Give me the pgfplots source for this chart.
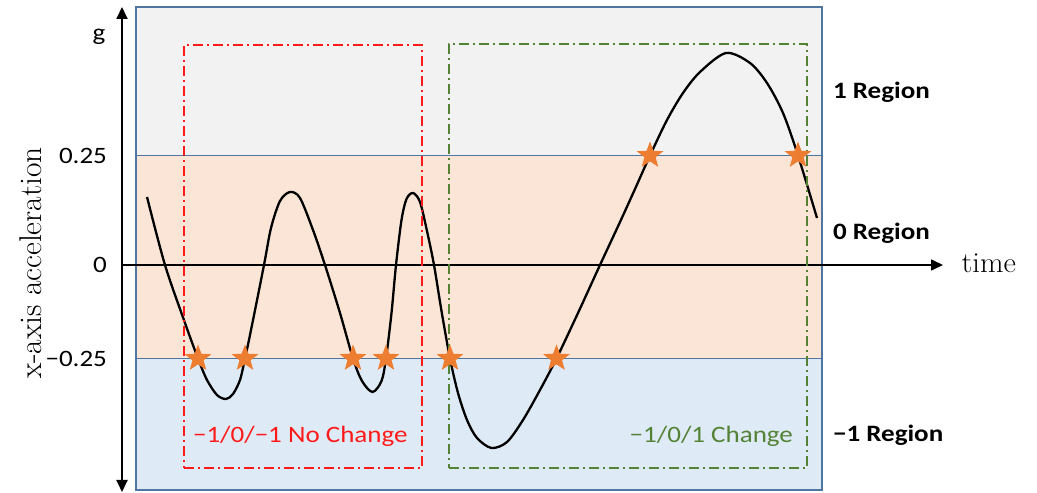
\documentclass[border=0pt]{standalone}
\usepackage{pgfplots}
\pgfplotsset{compat=1.18}
\usepackage{fontspec}
\newfontfamily\carlito{Carlito}
\usetikzlibrary{arrows.meta}
\definecolor{bandgray}{HTML}{F2F2F2}
\definecolor{bandpeach}{HTML}{FBE5D6}
\definecolor{bandblue}{HTML}{DEEBF7}
\definecolor{edgeblue}{HTML}{4F75A3}
\definecolor{starorange}{HTML}{ED7D31}
\definecolor{boxred}{HTML}{FF1A1A}
\definecolor{boxgreen}{HTML}{548235}
\pgfdeclareplotmark{fstar}{%
  \pgfpathmoveto{\pgfpointpolar{90}{\pgfplotmarksize}}%
  \pgfpathlineto{\pgfpointpolar{126}{0.42\pgfplotmarksize}}%
  \pgfpathlineto{\pgfpointpolar{162}{\pgfplotmarksize}}%
  \pgfpathlineto{\pgfpointpolar{198}{0.42\pgfplotmarksize}}%
  \pgfpathlineto{\pgfpointpolar{234}{\pgfplotmarksize}}%
  \pgfpathlineto{\pgfpointpolar{270}{0.42\pgfplotmarksize}}%
  \pgfpathlineto{\pgfpointpolar{306}{\pgfplotmarksize}}%
  \pgfpathlineto{\pgfpointpolar{342}{0.42\pgfplotmarksize}}%
  \pgfpathlineto{\pgfpointpolar{18}{\pgfplotmarksize}}%
  \pgfpathlineto{\pgfpointpolar{54}{0.42\pgfplotmarksize}}%
  \pgfpathclose\pgfusepathqfill}
\begin{document}
\begin{tikzpicture}
\begin{axis}[width=1037pt,height=493pt,scale only axis,
  xmin=0,xmax=1037,ymin=0,ymax=493,hide axis,clip=false]
% bands (y = 493 - pixel row)
\addplot[fill=bandgray,draw=none] coordinates {(136,337.5) (822,337.5) (822,486) (136,486)} --cycle;
\addplot[fill=bandpeach,draw=none] coordinates {(136,134.5) (822,134.5) (822,337.5) (136,337.5)} --cycle;
\addplot[fill=bandblue,draw=none] coordinates {(136,3) (822,3) (822,134.5) (136,134.5)} --cycle;
\addplot[edgeblue,line width=1.4pt] coordinates {(136,337.5) (822,337.5)};
\addplot[edgeblue,line width=1.4pt] coordinates {(136,134.5) (822,134.5)};
\addplot[edgeblue,line width=1.4pt] coordinates {(136,3) (822,3) (822,486) (136,486)} --cycle;
% axes
\draw[line width=1.8pt,{Triangle[length=12pt,width=11pt]}-{Triangle[length=12pt,width=11pt]}] (axis cs:122,1) -- (axis cs:122,486);
\draw[line width=1.6pt,-{Triangle[length=12pt,width=11pt]}] (axis cs:122,228) -- (axis cs:943,228);
% signal
\addplot[black,line width=2.3pt,smooth,tension=0.5] coordinates {
(147,296) (165,228) (185,170) (198,134.5) (207,113) (217,98) (226,94)
(233,99) (240,113) (245,134.5) (250,158) (264,228) (271,265)
(280,292) (290,301) (300,295) (313,263) (325,228) (340,180) (353,134.5)
(362,112) (372.5,101) (381.5,112) (386,134.5) (391.5,180) (396,228)
(401.5,273) (406.5,294) (413,300) (420,291) (427,262) (434,228)
(441.5,182) (450,134.5) (458,100) (467,73) (477,55) (491.5,45) (507,51)
(523,73) (540,103) (556.5,134.5) (578,180) (600,228) (620,271) (635,304)
(650,337.5) (667,373) (683,400) (700,421) (726,440) (750,430) (767,410)
(783,380) (798,337.5) (817,275)};
% boxes
\addplot[boxred,line width=1.6pt,dash pattern=on 10pt off 4pt on 2pt off 4pt]
  coordinates {(184,25) (422,25) (422,448) (184,448)} --cycle;
\addplot[boxgreen,line width=1.6pt,dash pattern=on 10pt off 4pt on 2pt off 4pt]
  coordinates {(449,25) (807,25) (807,449) (449,449)} --cycle;
% crossing stars
\addplot[only marks,mark=fstar,mark size=14pt,starorange] coordinates {
(198,134.5) (245,134.5) (353,134.5) (386,134.5) (450,134.5) (556.5,134.5)
(650,337.5) (798,337.5)};
% labels
\node[anchor=east,font=\carlito\fontsize{23.5}{26}\selectfont,xscale=1.15] at (axis cs:111,337.5) {0.25};
\node[anchor=east,font=\carlito\fontsize{23.5}{26}\selectfont,xscale=1.15] at (axis cs:111,228) {0};
\node[anchor=east,font=\carlito\fontsize{23.5}{26}\selectfont,xscale=1.15] at (axis cs:111,134.5) {−0.25};
\node[font=\carlito\fontsize{23.5}{26}\selectfont,xscale=1.15] at (axis cs:99,456) {g};
\node[rotate=90,font=\fontsize{31.5}{36}\selectfont] at (axis cs:31,230) {x-axis acceleration};
\node[anchor=west,font=\fontsize{29}{34}\selectfont,xscale=1.05] at (axis cs:958,230) {time};
\node[anchor=west,font=\carlito\bfseries\fontsize{23.5}{26}\selectfont,xscale=1.15] at (axis cs:829,400.5) {1 Region};
\node[anchor=west,font=\carlito\bfseries\fontsize{23.5}{26}\selectfont,xscale=1.15] at (axis cs:829,259.5) {0 Region};
\node[anchor=west,font=\carlito\bfseries\fontsize{23.5}{26}\selectfont,xscale=1.15] at (axis cs:829,58) {−1 Region};
\node[anchor=base west,text=boxred,font=\carlito\fontsize{23.5}{26}\selectfont,xscale=1.15] at (axis cs:189,50) {−1/0/−1 No Change};
\node[anchor=base east,text=boxgreen,font=\carlito\fontsize{23.5}{26}\selectfont,xscale=1.15] at (axis cs:797,50) {−1/0/1 Change};
\end{axis}
\pgfresetboundingbox
\path[use as bounding box] (current axis.south west) rectangle (current axis.north east);
\end{tikzpicture}
\end{document}
